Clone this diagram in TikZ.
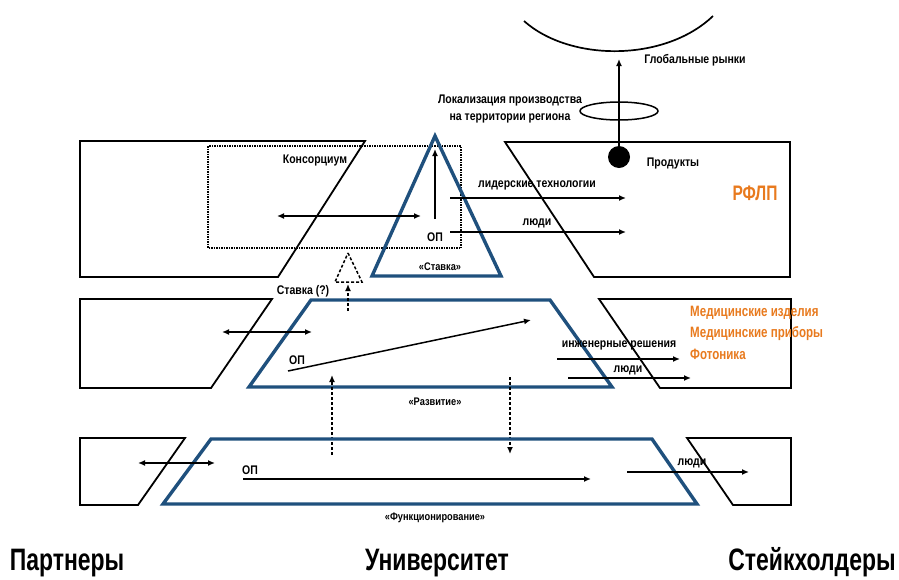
\documentclass[tikz,border=0pt]{standalone}
\usepackage{fontspec}
\setmainfont{Liberation Sans}
\newfontfamily\smf[FakeStretch=0.84]{Liberation Sans}
\newfontfamily\bgf[FakeStretch=0.74]{Liberation Sans}
\newfontfamily\orf[FakeStretch=0.77]{Liberation Sans}
\usetikzlibrary{arrows.meta}
\definecolor{tblue}{RGB}{31,80,125}
\definecolor{torange}{RGB}{232,122,30}
\begin{document}
\begin{tikzpicture}[x=1pt,y=-1pt,
  frame/.style={draw=black,line width=1.8pt,line join=miter},
  tier/.style={draw=tblue,line width=3.4pt,line join=miter},
  arr/.style={line width=1.5pt,-{Latex[length=7pt,width=6pt]}},
  darr/.style={line width=1.5pt,{Latex[length=7pt,width=6pt]}-{Latex[length=7pt,width=6pt]}},
  dotarr/.style={line width=1.5pt,dash pattern=on 3pt off 2pt,-{Latex[length=7pt,width=6pt]}},
  lbl/.style={inner sep=0pt,font=\smf\bfseries\fontsize{12.5}{14}\selectfont},
  slbl/.style={inner sep=0pt,font=\smf\bfseries\fontsize{11}{13}\selectfont},
  olbl/.style={inner sep=0pt,anchor=west,text=torange,font=\orf\bfseries\fontsize{15}{18}\selectfont},
  big/.style={inner sep=0pt,anchor=base,font=\bgf\bfseries\fontsize{31}{36}\selectfont}]
\useasboundingbox (0,0) rectangle (899,579);

% ---------- top band ----------
\draw[frame] (80,141) -- (365,141) -- (278,277) -- (80,277) -- cycle;
\draw[frame] (505,142) -- (790,142) -- (790,277) -- (594,277) -- cycle;
\draw[line width=1.5pt,dash pattern=on 1.5pt off 1pt] (208,146) rectangle (461,248);
\draw[tier] (435,136) -- (501,276) -- (372,276) -- cycle;

\coordinate (va0) at (435,219); \coordinate (va1) at (435,149);
\draw[arr] (va0) -- (va1);
\coordinate (ha0) at (277,216); \coordinate (ha1) at (421,216);
\draw[darr] (ha0) -- (ha1);
\coordinate (lt0) at (450,198); \coordinate (lt1) at (626,198);
\draw[arr] (lt0) -- (lt1);
\coordinate (lp0) at (450,232); \coordinate (lp1) at (626,232);
\draw[arr] (lp0) -- (lp1);

\node[circle,fill=black,minimum size=22pt,inner sep=0pt] (dot) at (619,157) {};
\coordinate (gm) at (619,59);
\draw[arr] (dot.center) -- (gm);
\draw[line width=1.5pt] (619,111) ellipse [x radius=39pt, y radius=9pt];
\draw[line width=1.7pt] (524,21) .. controls (570,62) and (665,62) .. (713,16);

\node[lbl] (glob) at (695,60) {Глобальные рынки};
\node[lbl,align=center] (loc) at (510,109) {Локализация производства\\[3pt]на территории региона};
\node[lbl] (prod) at (673,163) {Продукты};
\node[inner sep=0pt,text=torange,font=\bgf\bfseries\fontsize{21}{25}\selectfont] (rflp) at (755,193) {РФЛП};
\node[lbl] (cons) at (315,160) {Консорциум};
\node[lbl] (op1) at (435,237) {ОП};
\node[lbl] (lidt) at (537,185) {лидерские технологии};
\node[lbl] (ppl1) at (537,223) {люди};
\node[slbl] (stavka) at (440,267) {«Ставка»};

% ---------- middle band ----------
\draw[frame] (80,299) -- (272,299) -- (211,388) -- (80,388) -- cycle;
\draw[tier] (311,300) -- (550,300) -- (612,387) -- (249,387) -- cycle;
\draw[frame] (599,299) -- (791,299) -- (791,388) -- (660,388) -- cycle;

\coordinate (mh0) at (222,332); \coordinate (mh1) at (312,332);
\draw[darr] (mh0) -- (mh1);
\coordinate (mo0) at (288,371); \coordinate (mo1) at (531,320);
\draw[arr] (mo0) -- (mo1);
\coordinate (up0) at (332,455); \coordinate (up1) at (332,375);
\draw[dotarr] (up0) -- (up1);
\coordinate (dn0) at (510,377); \coordinate (dn1) at (510,454);
\draw[dotarr] (dn0) -- (dn1);
\draw[line width=1.5pt,dash pattern=on 3pt off 2pt] (348,253) -- (362,282) -- (335,282) -- cycle;
\coordinate (st0) at (348,311); \coordinate (st1) at (348,284);
\draw[dotarr] (st0) -- (st1);
\coordinate (en0) at (557,359); \coordinate (en1) at (680,359);
\draw[arr] (en0) -- (en1);
\coordinate (mp0) at (568,378); \coordinate (mp1) at (691,378);
\draw[arr] (mp0) -- (mp1);

\node[lbl] (stq) at (303,291) {Ставка (?)};
\node[lbl] (op2) at (297,360) {ОП};
\node[slbl] (razv) at (435,402) {«Развитие»};
\node[lbl] (eng) at (619,345) {инженерные решения};
\node[lbl] (ppl2) at (628,370) {люди};
\node[olbl] (med1) at (690,313) {Медицинские изделия};
\node[olbl] (med2) at (690,334) {Медицинские приборы};
\node[olbl] (phot) at (690,354) {Фотоника};

% ---------- bottom band ----------
\draw[frame] (80,438) -- (185,438) -- (138,505) -- (80,505) -- cycle;
\draw[tier] (211,439) -- (652,439) -- (697,504) -- (163,504) -- cycle;
\draw[frame] (687,438) -- (791,438) -- (791,505) -- (733,505) -- cycle;

\coordinate (bh0) at (138,463); \coordinate (bh1) at (215,463);
\draw[darr] (bh0) -- (bh1);
\coordinate (bo0) at (243,479); \coordinate (bo1) at (591,479);
\draw[arr] (bo0) -- (bo1);
\coordinate (bp0) at (627,472); \coordinate (bp1) at (749,472);
\draw[arr] (bp0) -- (bp1);

\node[lbl] (op3) at (250,470) {ОП};
\node[lbl] (ppl3) at (692,463) {люди};
\node[slbl] (func) at (435,518) {«Функционирование»};

% ---------- bottom titles ----------
\node[big] (partn) at (67,570) {Партнеры};
\node[big] (univ) at (437,570) {Университет};
\node[big] (stake) at (812,570) {Стейкхолдеры};
\end{tikzpicture}
\end{document}
